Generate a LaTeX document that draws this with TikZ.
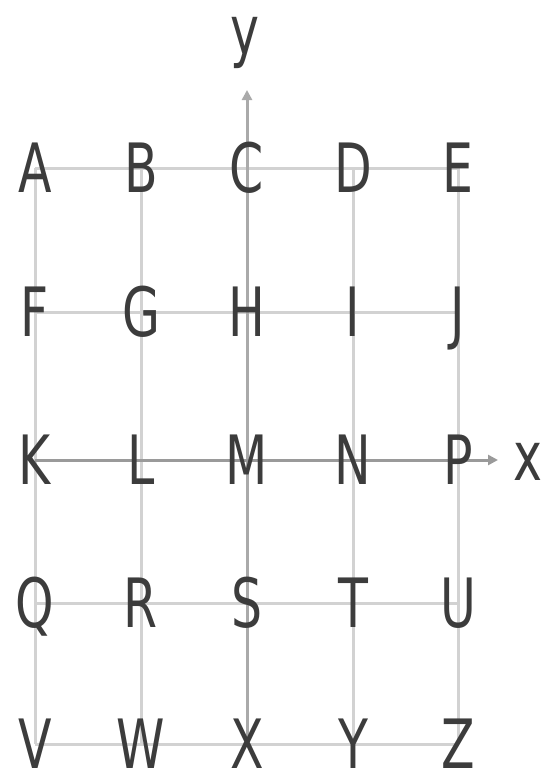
\documentclass[tikz,border=0pt]{standalone}
\usepackage{fontspec}
\setmainfont{DejaVu Sans}
\usetikzlibrary{backgrounds,arrows.meta}
\definecolor{gridc}{HTML}{D2D2D2}
\definecolor{axisc}{HTML}{9A9A9A}
\definecolor{axisy}{HTML}{AAAAAA}
\definecolor{letc}{HTML}{3C3C3C}
\newcommand{\narrowtxt}[1]{\scalebox{0.72}[1]{#1}}
\begin{document}
\begin{tikzpicture}[x=1pt,y=-1pt,
  lettr/.style={font=\fontsize{68}{68}\selectfont, text=letc, inner sep=0pt,
    text height=49.5pt, text depth=0pt, anchor=center},
  axlab/.style={font=\fontsize{68}{68}\selectfont, text=letc, inner sep=0pt,
    text height=37pt, text depth=0pt, anchor=center},
  gridline/.style={draw=gridc, line width=3pt},
  xaxis/.style={draw=axisc, line width=3pt, -{Triangle[length=10pt,width=10pt]}},
  yaxis/.style={draw=axisy, line width=3pt, -{Triangle[length=10pt,width=10pt]}}]
\useasboundingbox (0,0) rectangle (553,779);
% letters
\foreach \nm/\cx/\cy in {A/35/168,B/141/168,C/247/168,D/353/168,E/458/168,
  F/35/312,G/141/312,H/247/312,I/353/312,J/458/312,
  K/35/460,L/141/460,M/247/460,N/353/460,P/458/460,
  Q/35/603,R/141/603,S/247/603,T/353/603,U/458/603,
  V/35/744,W/141/744,X/247/744,Y/353/744,Z/458/744}
  \node[lettr] (\nm) at (\cx,\cy) {\narrowtxt{\nm}};
\node[axlab] (xl) at (528,462) {\narrowtxt{x}};
\node[axlab] (yl) at (245,36) {\narrowtxt{y}};
\coordinate (xtip) at (498,460);
\coordinate (ytip) at (247,90);
\begin{scope}[on background layer]
  % horizontal grid lines
  \draw[gridline] (A.center) -- (E.center);
  \draw[gridline] (F.center) -- (J.center);
  \draw[gridline] (Q.center) -- (U.center);
  \draw[gridline] (V.center) -- (Z.center);
  % vertical grid lines
  \draw[gridline] (A.center) -- (V.center);
  \draw[gridline] (B.center) -- (W.center);
  \draw[gridline] (D.center) -- (Y.center);
  \draw[gridline] (E.center) -- (Z.center);
  % axes
  \draw[yaxis] (X.center) -- (ytip);
  \draw[xaxis] (K.center) -- (xtip);
\end{scope}
\end{tikzpicture}
\end{document}
